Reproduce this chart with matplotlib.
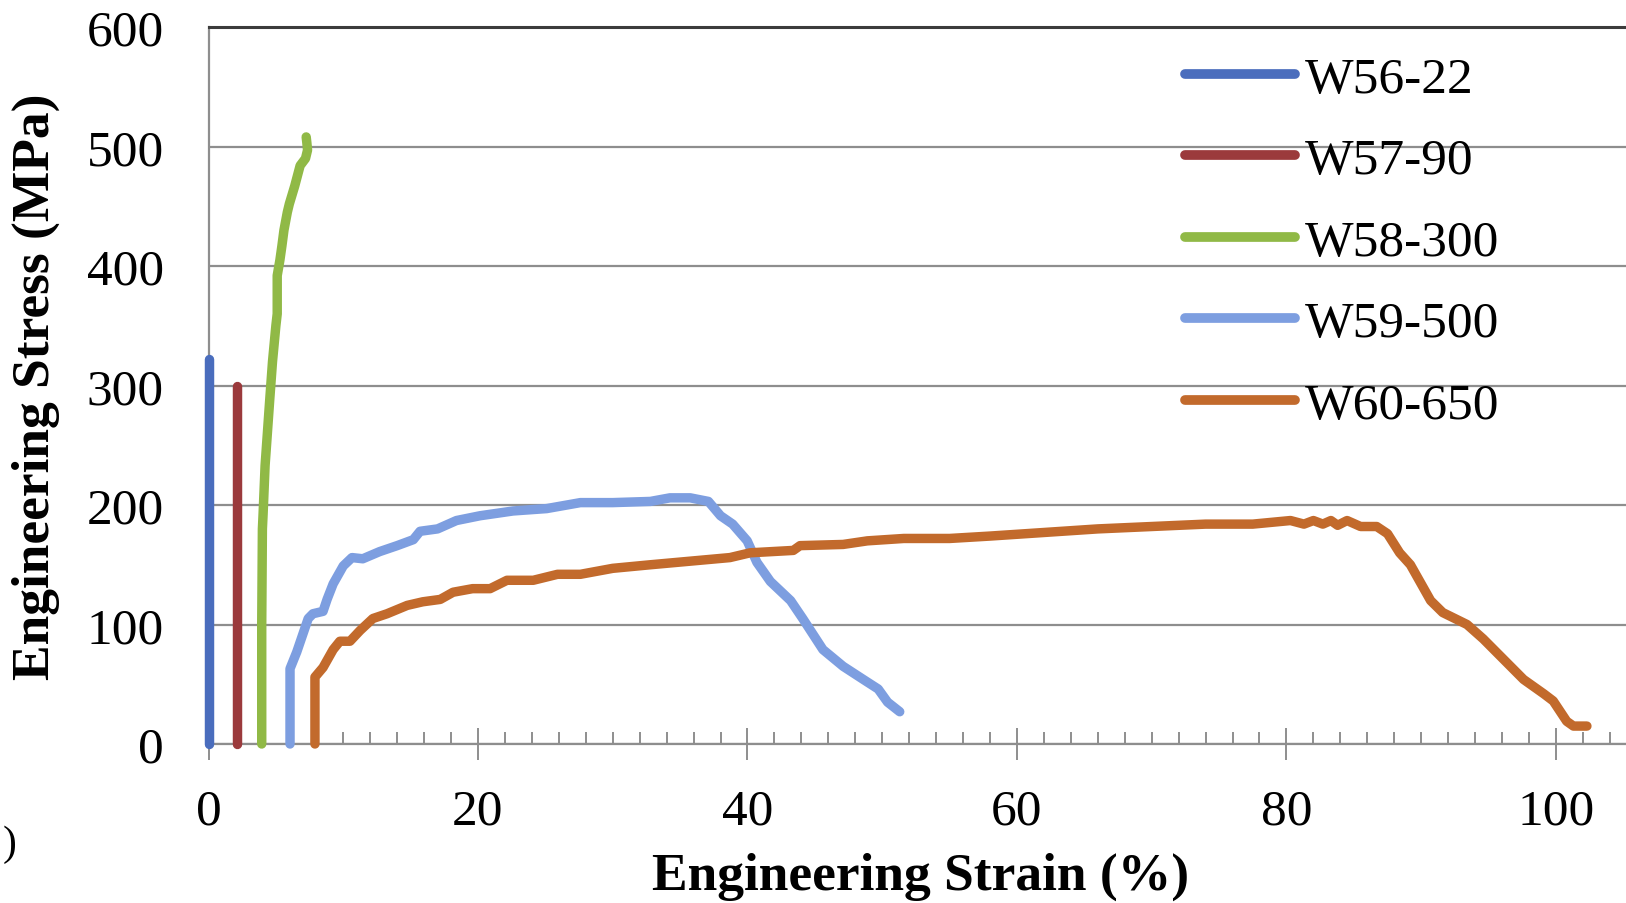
import matplotlib
matplotlib.use("Agg")
import matplotlib.pyplot as plt
from matplotlib.ticker import MultipleLocator

# ------------------------------------------
# Data
# ------------------------------------------

labels = ["W56-22", "W57-90", "W58-300", "W59-500", "W60-650"]
colors = ["#4a6dbd", "#9b3a3c", "#90b946", "#7d9ee0", "#c26a2c"]

w56_x = [0.0, 0.0]
w56_y = [0, 322]

w57_x = [2.1, 2.1]
w57_y = [0, 300]

w58_x = [3.95, 3.95, 4.0, 4.05, 4.2, 4.4, 4.55, 4.75, 5.0, 5.1, 5.1,
         5.3, 5.45, 5.6, 5.85, 6.0, 6.4, 6.8, 7.2, 7.35, 7.3, 7.25]
w58_y = [0, 100, 180, 192, 233, 265, 289, 320, 350, 360, 392,
         405, 417, 430, 445, 452, 467, 484, 490, 497, 503, 508]

w59_x = [6.05, 6.05, 6.55, 7.4, 7.75, 8.5, 8.8, 9.25, 10.0, 10.65, 11.45,
         12.7, 14.0, 15.2, 15.7, 17.0, 18.4, 20.15, 22.6, 25.1, 27.6, 30.0,
         32.8, 34.25, 35.75, 37.1, 38.0, 38.9, 39.98, 40.7, 41.7, 43.2,
         44.1, 45.6, 47.1, 48.6, 49.7, 50.4, 51.3]
w59_y = [0, 63, 77, 105, 109, 111, 121, 134, 149, 156, 155,
         161, 166, 171, 178, 180, 187, 191, 195, 197, 202, 202,
         203, 206, 206, 203, 191, 184, 170, 152, 136, 120,
         105, 79, 65, 54, 46, 35, 27]

w60_x = [7.9, 7.9, 8.5, 9.25, 9.75, 10.5, 11.25, 12.2, 13.25, 14.75, 15.9,
         17.2, 18.15, 19.6, 20.9, 22.15, 24.1, 25.9, 27.6, 30.0, 32.8, 35.75,
         38.7, 40.2, 43.4, 43.9, 47.1, 48.9, 51.6, 55.0, 58.0, 62.0, 66.0,
         70.0, 74.0, 77.5, 80.3, 81.3, 82.0, 82.7, 83.3, 83.8, 84.5, 85.5,
         86.7, 87.5, 88.4, 89.2, 90.2, 90.7, 91.6, 93.4, 94.6, 96.1, 97.6,
         99.1, 99.8, 100.8, 101.3, 102.3]
w60_y = [0, 56, 64, 79, 86, 86, 95, 105, 109, 116, 119,
         121, 127, 130, 130, 137, 137, 142, 142, 147, 150, 153,
         156, 160, 162, 166, 167, 170, 172, 172, 174, 177, 180,
         182, 184, 184, 187, 184, 187, 184, 187, 183, 187, 182,
         182, 176, 160, 150, 130, 120, 110, 100, 88, 71, 54,
         42, 36, 19, 15, 15]

series_x = [w56_x, w57_x, w58_x, w59_x, w60_x]
series_y = [w56_y, w57_y, w58_y, w59_y, w60_y]

x_ticks = [0, 20, 40, 60, 80, 100]
y_ticks = [0, 100, 200, 300, 400, 500, 600]

# ------------------------------------------
# Plot
# ------------------------------------------

plt.rcParams["font.family"] = ["Liberation Serif", "DejaVu Serif"]

fig = plt.figure(figsize=(16.26, 9.04), dpi=100)
ax = fig.add_axes([208.5 / 1626, 1 - 745 / 904, 1 - 208.5 / 1626, (745 - 28) / 904])

for xs, ys, lab, col in zip(series_x, series_y, labels, colors):
    ax.plot(xs, ys, color=col, lw=6.8, label=lab, clip_on=False,
            solid_capstyle="round", solid_joinstyle="round", zorder=3)

ax.set_xlim(0, 105.2)
ax.set_ylim(0, 600)
ax.set_xticks(x_ticks)
ax.set_yticks(y_ticks)
ax.xaxis.set_minor_locator(MultipleLocator(2))

ax.grid(axis="y", color="#8e8e8e", lw=1.6, zorder=1)
ax.set_axisbelow(True)

ax.spines["right"].set_visible(False)
ax.spines["top"].set_color("#3c3c3c")
ax.spines["top"].set_linewidth(2.2)
ax.spines["left"].set_color("#8e8e8e")
ax.spines["left"].set_linewidth(1.6)
ax.spines["bottom"].set_color("#8e8e8e")
ax.spines["bottom"].set_linewidth(1.6)

ax.tick_params(axis="x", which="major", direction="inout", length=23,
               width=1.4, color="#8e8e8e", labelsize=37, pad=20)
ax.tick_params(axis="x", which="minor", direction="in", length=8.5,
               width=1.4, color="#8e8e8e")
ax.tick_params(axis="y", which="major", length=0, labelsize=37, pad=32)

fig.text(36 / 1626, 1 - 387 / 904, "Engineering Stress (MPa)", rotation=90,
         ha="center", va="center", fontsize=38.5, fontweight="bold")
fig.text(921 / 1626, 1 - 877 / 904, "Engineering Strain (%)",
         ha="center", va="center", fontsize=38.5, fontweight="bold")

# leftover glyph at the bottom-left edge of the source image
fig.text(3 / 1626, 1 - 845 / 904, ")", ha="left", va="center", fontsize=30)

leg = ax.legend(loc="upper left", bbox_to_anchor=(1185 / 1626, 1 - 57 / 904),
                bbox_transform=fig.transFigure, frameon=False, fontsize=37,
                handlelength=2.14, handletextpad=0.2, labelspacing=0.67,
                borderpad=0, borderaxespad=0)
for line in leg.get_lines():
    line.set_linewidth(7)
    line.set_solid_capstyle("round")

fig.savefig("out.png", dpi=100)
